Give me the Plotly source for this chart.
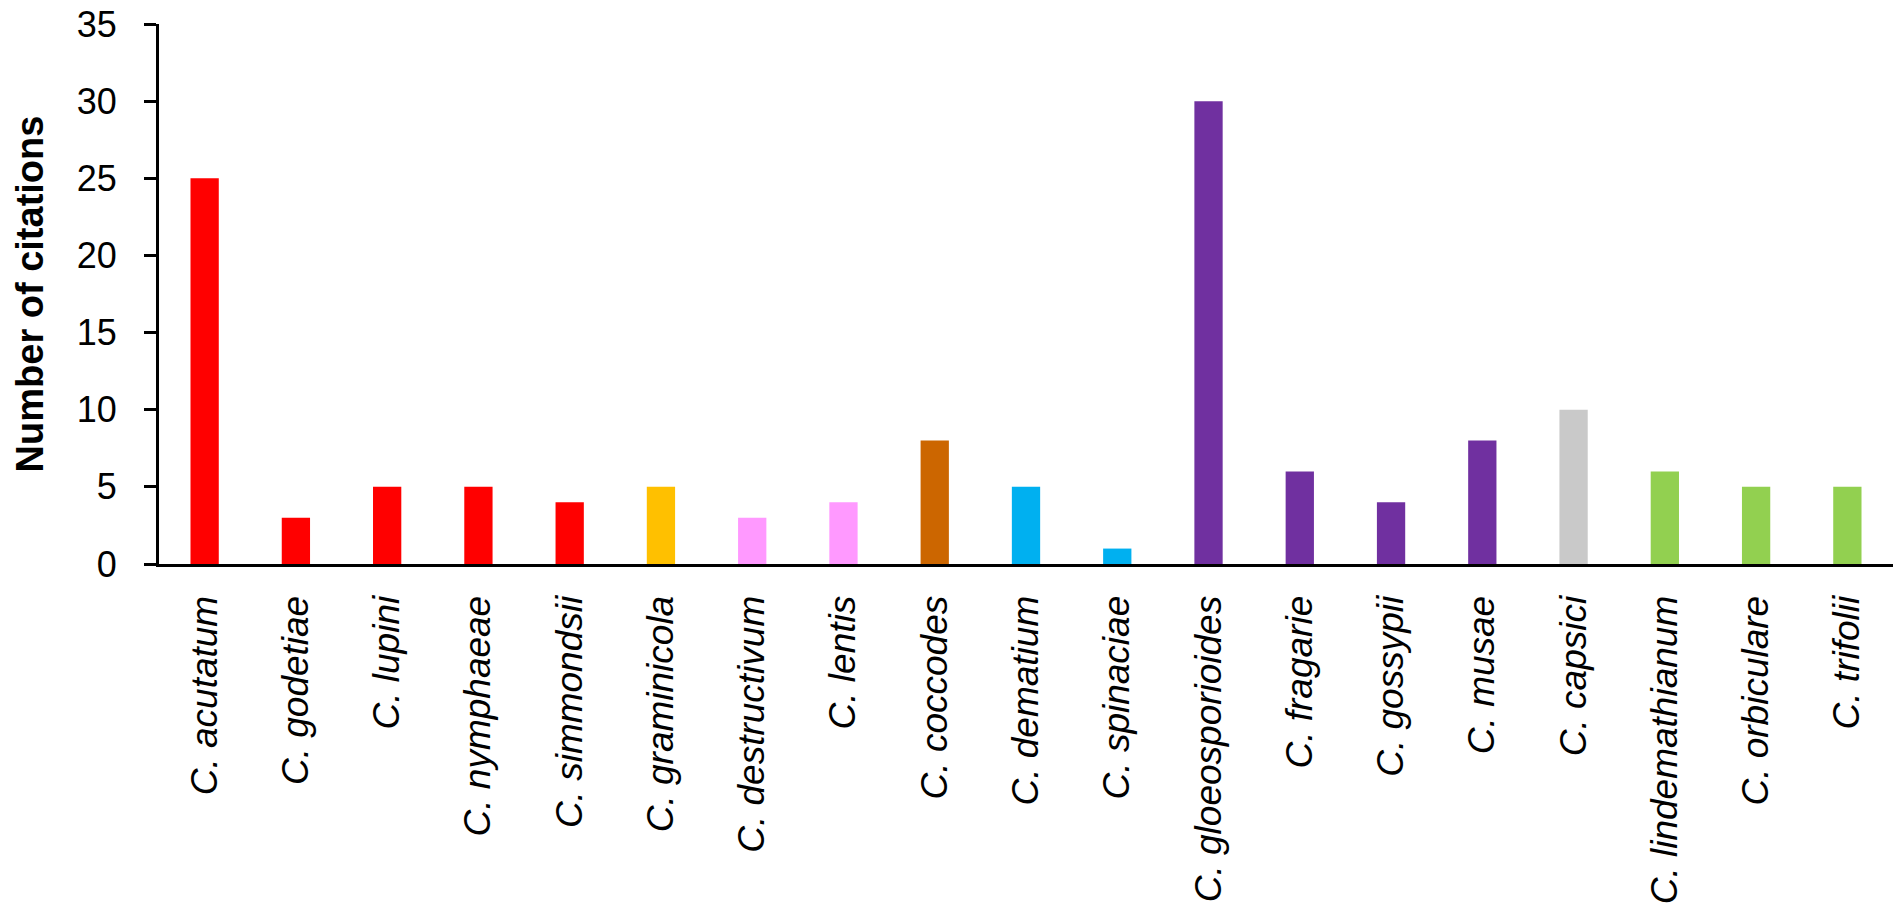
'''
bar chart of citations per Colletotrichum species
'''
import plotly.graph_objects as go

species = [
    'C. acutatum', 'C. godetiae', 'C. lupini', 'C. nymphaeae', 'C. simmondsii',
    'C. graminicola', 'C. destructivum', 'C. lentis', 'C. coccodes', 'C. dematium',
    'C. spinaciae', 'C. gloeosporioides', 'C. fragarie', 'C. gossypii', 'C. musae',
    'C. capsici', 'C. lindemathianum', 'C. orbiculare', 'C. trifolii',
]
citations = [25, 3, 5, 5, 4, 5, 3, 4, 8, 5, 1, 30, 6, 4, 8, 10, 6, 5, 5]
bar_colours = [
    '#FF0000', '#FF0000', '#FF0000', '#FF0000', '#FF0000',
    '#FFC000', '#FF99FF', '#FF99FF', '#CC6600', '#00B0F0',
    '#00B0F0', '#7030A0', '#7030A0', '#7030A0', '#7030A0',
    '#C9C9C9', '#92D050', '#92D050', '#92D050',
]
y_ticks = [0, 5, 10, 15, 20, 25, 30, 35]

font_family = 'Arial, Liberation Sans, sans-serif'

figure = go.Figure()
figure.add_trace(go.Bar(
    x=species, y=citations, width=0.31,
    marker=dict(color=bar_colours, line=dict(width=0)),
    showlegend=False,
))

# page body adds ~8px offset, so margins are shifted back by that much
figure.update_layout(
    width=1902, height=912,
    margin=dict(l=151, r=17, t=16, b=356),
    plot_bgcolor='white', paper_bgcolor='white',
    font=dict(family=font_family, color='black'),
)
figure.update_xaxes(
    showline=True, linecolor='black', linewidth=3,
    ticks='', tickangle=-90, range=[-0.5, 18.5],
    tickfont=dict(size=37, family=font_family, style='italic'),
    ticklabelstandoff=14, automargin=False,
)
figure.update_yaxes(
    range=[0, 35], tickvals=y_ticks,
    showline=True, linecolor='black', linewidth=3,
    ticks='outside', ticklen=12, tickwidth=3, tickcolor='black',
    showgrid=False, zeroline=False,
    tickfont=dict(size=36, family=font_family),
    ticklabelstandoff=20, ticklabeloverflow='allow', automargin=False,
    title=dict(text='<b>Number of citations</b>', font=dict(size=38), standoff=22),
)
figure.write_html('out.html')
